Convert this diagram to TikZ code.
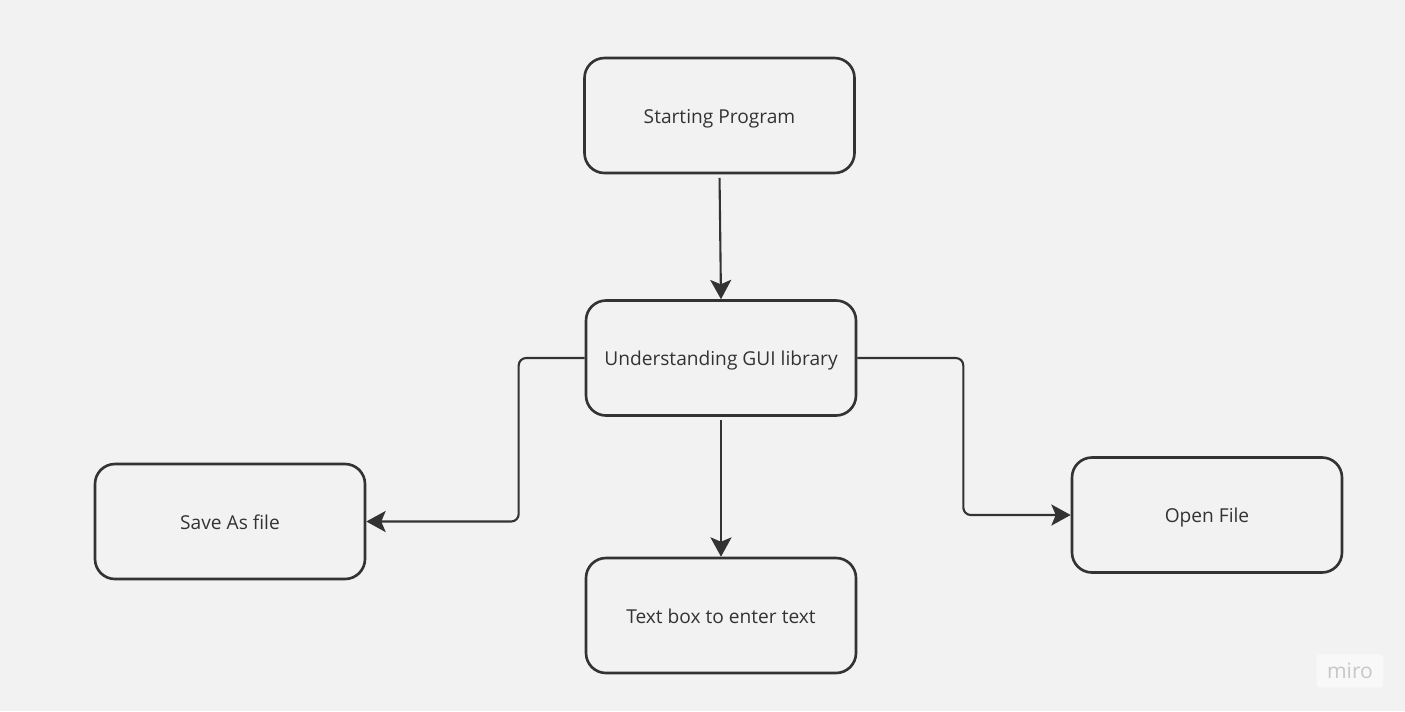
\documentclass[tikz,border=0pt]{standalone}
\usepackage{fontspec}
\setmainfont{Open Sans}
\usetikzlibrary{arrows.meta}

\definecolor{paper}{HTML}{F2F2F2}
\definecolor{ink}{HTML}{333333}
\tikzset{>={Stealth[length=11pt,width=12pt,inset=2.5pt]}}
\tikzset{
    box/.style={draw=ink, line width=1.5pt, rounded corners=0.4cm, minimum width=5.4cm, minimum height=2.3cm, text=ink, text height=1.1em, text depth=0.2em, font=\fontsize{10.9}{12}\selectfont},
    flow/.style={->, draw=ink, line width=1.2pt, rounded corners=0.15cm}
}

\begin{document}
\begin{tikzpicture}

    % page
    \fill[paper] (0,0) rectangle (28.1,-14.22);
    \useasboundingbox (0,0) rectangle (28.1,-14.22);

    % steps
    \node[box] (start) at (14.39,-2.31) {Starting Program};
    \node[box] (gui) at (14.42,-7.16) {Understanding GUI library};
    \node[box] (save) at (4.60,-10.43) {Save As file};
    \node[box] (textbox) at (14.42,-12.31) {Text box to enter text};
    \node[box] (open) at (24.14,-10.30) {Open File};

    % arrows
    \draw[flow, shorten <=2pt] (start.south) -- (gui.north);
    \draw[flow, shorten <=2pt] (gui.south) -- (textbox.north);
    \draw[flow] (gui.west) -- ++(-1.32,0) |- (save.east);
    \draw[flow] (gui.east) -- ++(2.12,0) |- (open.west);

    % watermark
    \node[fill=white!50!paper, rounded corners=2pt, text=black!22, inner xsep=6pt, inner ysep=5pt, font=\fontsize{12}{13}\selectfont] (miro) at (27.0,-13.42) {miro};

\end{tikzpicture}
\end{document}
